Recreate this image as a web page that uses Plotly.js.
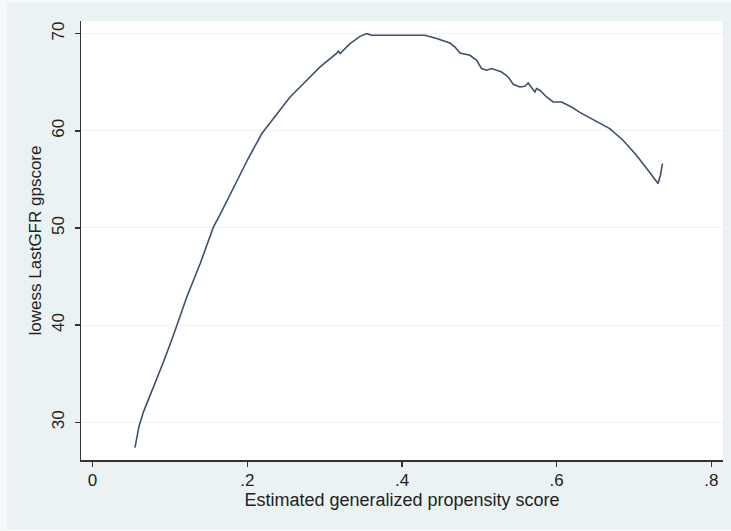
<!DOCTYPE html>
<html>
<head>
<meta charset="utf-8">
<script src="https://cdn.plot.ly/plotly-3.0.1.min.js"></script>
<style>
  html, body { margin: 0; padding: 0; background: #f6f9f9; width: 731px; height: 531px; overflow: hidden; }
  #chart { position: absolute; left: 7px; top: 3px; width: 724px; height: 526px; }
</style>
</head>
<body>
<div id="chart"></div>
<script>
// Estimated generalized propensity score (x) and lowess LastGFR gpscore (y)
const gpsScore = [0.0548, 0.0600, 0.0659, 0.0745, 0.0917, 0.1046, 0.1219, 0.1391, 0.1563, 0.1649, 0.1736,
  0.1821, 0.1900, 0.2015, 0.2188, 0.2382, 0.2553, 0.2747, 0.2941, 0.3157, 0.3178, 0.3200, 0.3328,
  0.3458, 0.3544, 0.3609, 0.4297, 0.4448, 0.4620, 0.4685, 0.4749, 0.4878, 0.4965, 0.5029, 0.5094,
  0.5159, 0.5223, 0.5288, 0.5373, 0.5438, 0.5524, 0.5589, 0.5631, 0.5675, 0.5718, 0.5740, 0.5782,
  0.5869, 0.5954, 0.6063, 0.6192, 0.6299, 0.6471, 0.6686, 0.6858, 0.7031, 0.7181, 0.7310, 0.7341, 0.7367];
const lowessGFR = [27.39, 29.6, 31.1, 32.8, 36.23, 38.98, 42.92, 46.35, 50.11, 51.4, 52.8,
  54.2, 55.3, 57.2, 59.72, 61.77, 63.48, 65.02, 66.57, 68.0, 68.2, 67.95, 68.97,
  69.72, 70.0, 69.83, 69.83, 69.49, 69.03, 68.62, 68.0, 67.77, 67.25, 66.40, 66.23,
  66.40, 66.23, 66.05, 65.54, 64.79, 64.51, 64.58, 64.92, 64.51, 64.0, 64.34, 64.17,
  63.48, 62.97, 62.97, 62.45, 61.9, 61.16, 60.23, 59.03, 57.49, 55.94, 54.58, 55.43, 56.63];

const xTickVals = [0, 0.2, 0.4, 0.6, 0.8];
const xTickText = ['0', '.2', '.4', '.6', '.8'];
const yTickVals = [30, 40, 50, 60, 70];
const yTickText = ['30', '40', '50', '60', '70'];

const trace = {
  x: gpsScore,
  y: lowessGFR,
  type: 'scatter',
  mode: 'lines',
  line: { color: '#3d5070', width: 1.6 },
  hoverinfo: 'x+y'
};

const fontFam = 'Liberation Sans, Arial, sans-serif';
const layout = {
  width: 724,
  height: 526,
  margin: { l: 74, r: 8, t: 18, b: 69, pad: 0 },
  paper_bgcolor: '#eaf2f3',
  plot_bgcolor: '#ffffff',
  showlegend: false,
  font: { family: fontFam, size: 17, color: '#222222' },
  xaxis: {
    range: [-0.015, 0.815],
    tickvals: xTickVals,
    ticktext: xTickText,
    ticks: 'outside',
    ticklen: 5,
    tickwidth: 1.5,
    tickcolor: '#333333',
    showline: true,
    linecolor: '#333333',
    linewidth: 1.5,
    showgrid: false,
    zeroline: false,
    tickfont: { family: fontFam, size: 17, color: '#222222' },
    ticklabelstandoff: -1,
    title: { text: 'Estimated generalized propensity score', font: { family: fontFam, size: 18, color: '#222222' }, standoff: 0 }
  },
  yaxis: {
    range: [26.12, 71.3],
    tickvals: yTickVals,
    ticktext: yTickText,
    tickangle: -90,
    ticks: 'outside',
    ticklen: 5,
    tickwidth: 1.5,
    tickcolor: '#333333',
    showline: true,
    linecolor: '#333333',
    linewidth: 1.5,
    showgrid: true,
    gridcolor: '#eaf2f3',
    gridwidth: 1,
    zeroline: false,
    tickfont: { family: fontFam, size: 17, color: '#222222' },
    ticklabelstandoff: 4,
    title: { text: 'lowess LastGFR gpscore', font: { family: fontFam, size: 17, color: '#222222' }, standoff: 3 }
  }
};

Plotly.newPlot('chart', [trace], layout, { displayModeBar: false, staticPlot: true });
</script>
</body>
</html>
